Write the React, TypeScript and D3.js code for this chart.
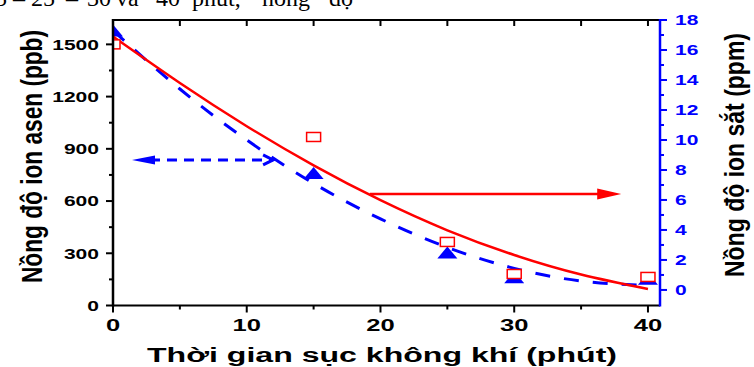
import React from 'react';
import * as d3 from 'd3';

// measured points
const timePoints = [0, 15, 25, 30, 40];
const arsenicPpb = [1500, 968, 365, 181, 164];
const ironPpm = [17.3, 7.8, 2.5, 0.85, 0.75];

// fitted curves
const fitTimes = [0, 5, 10, 15, 20, 25, 30, 35, 40];
const arsenicFit = [1545, 1278, 1030, 805, 605, 432, 290, 178, 95];
const ironFit = [17.3, 13.4, 10.0, 7.1, 4.74, 2.84, 1.44, 0.6, 0.3];

const xTicks = [0, 10, 20, 30, 40];
const xMinor = [5, 15, 25, 35];
const xTopTicks = [5, 10, 15, 20, 25, 30, 35, 40];
const leftTicks = [0, 300, 600, 900, 1200, 1500];
const leftMinor = [150, 450, 750, 1050, 1350];
const rightTicks = [0, 2, 4, 6, 8, 10, 12, 14, 16, 18];
const rightMinor = [1, 3, 5, 7, 9, 11, 13, 15, 17];

const topWords = [
  { t: '5', x: -5 }, { t: '–', x: 13 }, { t: '25', x: 31 }, { t: '–', x: 66 },
  { t: '30', x: 87 }, { t: 'và', x: 116 }, { t: '40', x: 156 }, { t: 'phút,', x: 192 },
  { t: 'nồng', x: 262 }, { t: 'độ', x: 329 },
];

const W = 754;
const H = 367;
const RED = '#ff0000';
const BLUE = '#0000ff';
const SANS = '"Liberation Sans", Arial, sans-serif';

export default function App() {
  const x = d3.scaleLinear().domain([0, 40.9]).range([113, 660]);
  const yL = d3.scaleLinear().domain([0, 1640]).range([305.5, 20]);
  const yR = d3.scaleLinear().domain([-1.07, 18]).range([306, 20]);

  const redLine = d3.line<number>()
    .x((_, i) => x(fitTimes[i]))
    .y(d => yL(d))
    .curve(d3.curveNatural);
  const blueLine = d3.line<number>()
    .x((_, i) => x(fitTimes[i]))
    .y(d => yR(d))
    .curve(d3.curveNatural);

  const x0 = x(0), x1 = x.range()[1];
  const yTop = 20, yBot = 305.5;

  // annotation arrows
  const redArrowY = yL(640);
  const redA = x(19.2), redB = x(38);
  const blueArrowY = yR(8.67);
  const blueA = x(1.42), blueB = x(11.97);

  return (
    <svg width={W} height={H} style={{ position: 'absolute', left: 0, top: 0, background: '#fff' }}>
      <defs>
        <clipPath id="plot">
          <rect x={x0} y={yTop} width={x1 - x0} height={yBot - yTop} />
        </clipPath>
      </defs>

      {/* cut-off line of text above the figure */}
      <g fontFamily='"Liberation Serif", "Times New Roman", serif' fontSize={24} fill="#000">
        {topWords.map((w, i) => (
          <text key={i} x={w.x} y={6}>{w.t}</text>
        ))}
      </g>

      {/* data */}
      <g clipPath="url(#plot)">
        <path d={blueLine(ironFit) || ''} fill="none" stroke={BLUE} strokeWidth={3} strokeDasharray="15,14" />
        {timePoints.map((t, i) => {
          const cx = x(t), cy = yR(ironPpm[i]);
          return <path key={i} d={`M${cx - 10},${cy + 6}L${cx + 10},${cy + 6}L${cx},${cy - 6}Z`} fill={BLUE} />;
        })}
        <path d={redLine(arsenicFit) || ''} fill="none" stroke={RED} strokeWidth={2.5} />
        {timePoints.map((t, i) => (
          <rect key={i} x={x(t) - 7} y={yL(arsenicPpb[i]) - 4.5} width={14} height={9}
            fill="#fff" stroke={RED} strokeWidth={1.5} />
        ))}
      </g>

      {/* arrows */}
      <line x1={blueA + 18} y1={blueArrowY} x2={blueB} y2={blueArrowY} stroke={BLUE} strokeWidth={3} strokeDasharray="10,7" />
      <path d={`M${blueA},${blueArrowY}L${blueA + 23},${blueArrowY - 4.5}L${blueA + 23},${blueArrowY + 4.5}Z`} fill={BLUE} />
      <path d={`M${blueB - 10},${blueArrowY - 5}L${blueB},${blueArrowY}L${blueB - 10},${blueArrowY + 5}`} fill="none" stroke={BLUE} strokeWidth={3} />
      <line x1={redA} y1={redArrowY} x2={redB - 20} y2={redArrowY} stroke={RED} strokeWidth={2.5} />
      <path d={`M${redB},${redArrowY}L${redB - 24},${redArrowY - 5.5}L${redB - 24},${redArrowY + 5.5}Z`} fill={RED} />

      {/* frame */}
      <line x1={x0} y1={yTop} x2={x1} y2={yTop} stroke="#000" strokeWidth={2} />
      <line x1={x0} y1={yBot} x2={x1} y2={yBot} stroke="#000" strokeWidth={2} />
      <line x1={x0} y1={yTop - 1} x2={x0} y2={yBot + 1} stroke="#000" strokeWidth={2.5} />

      {/* top ticks (inward) */}
      {xTopTicks.map(t => (
        <line key={'tt' + t} x1={x(t)} y1={yTop} x2={x(t)} y2={yTop + 6} stroke="#000" strokeWidth={2} />
      ))}
      {/* bottom axis */}
      {xTicks.map(t => (
        <g key={'xt' + t}>
          <line x1={x(t)} y1={yBot} x2={x(t)} y2={yBot + 7} stroke="#000" strokeWidth={2} />
          <text transform={`translate(${x(t)},331) scale(1.55,1)`} textAnchor="middle"
            fontFamily={SANS} fontWeight="bold" fontSize={16.5}>{t}</text>
        </g>
      ))}
      {xMinor.map(t => (
        <line key={'xm' + t} x1={x(t)} y1={yBot} x2={x(t)} y2={yBot + 4} stroke="#000" strokeWidth={2} />
      ))}
      <text x={147} y={361.5} textLength={470} lengthAdjust="spacingAndGlyphs"
        fontFamily={SANS} fontWeight="bold" fontSize={19.5}>Thời gian sục không khí (phút)</text>

      {/* left axis */}
      {leftTicks.map(t => (
        <g key={'lt' + t}>
          <line x1={x0 - 7} y1={yL(t)} x2={x0} y2={yL(t)} stroke="#000" strokeWidth={2} />
          <text transform={`translate(99,${yL(t)}) scale(1.45,1)`} textAnchor="end" dy="0.36em"
            fontFamily={SANS} fontWeight="bold" fontSize={14.5}>{t}</text>
        </g>
      ))}
      {leftMinor.map(t => (
        <line key={'lm' + t} x1={x0 - 4} y1={yL(t)} x2={x0} y2={yL(t)} stroke="#000" strokeWidth={2} />
      ))}
      <text transform={`translate(42,156.5) scale(1.2,1) rotate(-90)`} textAnchor="middle" textLength={253}
        lengthAdjust="spacingAndGlyphs" fontFamily={SANS} fontWeight="bold" fontSize={24}>Nồng độ ion asen (ppb)</text>

      {/* right axis */}
      <line x1={x1} y1={19} x2={x1} y2={yBot + 1} stroke={BLUE} strokeWidth={2.5} />
      {rightTicks.map(t => (
        <g key={'rt' + t}>
          <line x1={x1} y1={yR(t)} x2={x1 + 7} y2={yR(t)} stroke={BLUE} strokeWidth={2} />
          <text transform={`translate(675,${yR(t)}) scale(1.4,1)`} dy="0.36em" fill={BLUE}
            fontFamily={SANS} fontWeight="bold" fontSize={15}>{t}</text>
        </g>
      ))}
      {rightMinor.map(t => (
        <line key={'rm' + t} x1={x1} y1={yR(t)} x2={x1 + 4} y2={yR(t)} stroke={BLUE} strokeWidth={2} />
      ))}
      <text transform={`translate(744,155) scale(1.15,1) rotate(-90)`} textAnchor="middle" textLength={244}
        lengthAdjust="spacingAndGlyphs" fontFamily={SANS} fontWeight="bold" fontSize={24}>Nồng độ ion sắt (ppm)</text>
    </svg>
  );
}
